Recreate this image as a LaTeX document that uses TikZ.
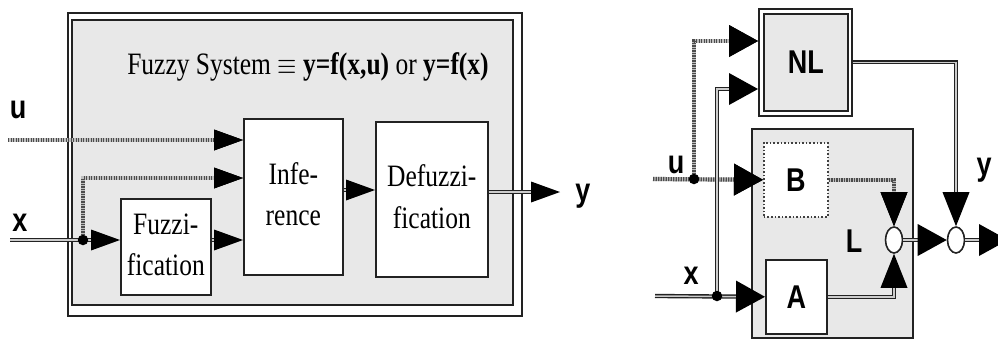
\documentclass[tikz,border=0pt]{standalone}
\usepackage{graphicx}
\usepackage{fontspec}
\setmainfont{Liberation Serif}
\setsansfont{Liberation Sans}
\usetikzlibrary{arrows.meta,shapes.geometric,calc}
\newcommand\vs[1]{\scalebox{1}[1.22]{#1}}
\definecolor{bgray}{HTML}{E8E8E8}
\definecolor{lin}{HTML}{222222}
\begin{document}
\begin{tikzpicture}[x=1pt,y=-1pt,
  box/.style={draw=lin, line width=1.6pt, fill=white, inner sep=0pt, anchor=north west},
  dbl/.style={draw=lin, line width=1.4pt, double=white!80!black, double distance=1.5pt},
  dts/.style={draw=black!70, line width=4.2pt, dash pattern=on 1.4pt off 1.1pt,
    preaction={draw=black!25, line width=4.2pt, solid}},
  tipS/.style={-{Triangle[length=29pt,width=21pt,line width=0pt,fill=black]}},
  tipH/.style={-{Triangle[length=29pt,width=32pt,line width=0pt,fill=black]}},
  tipV/.style={-{Triangle[length=34pt,width=27pt,line width=0pt,fill=black]}},
  serif/.style={font=\fontsize{25.5}{34}\selectfont},
  sfb/.style={font=\fontsize{27}{30}\selectfont\sffamily\bfseries},
  lab/.style={sfb, inner sep=0pt},
  jdot/.style={circle, fill=black, inner sep=0pt, minimum size=10.5pt},
  sum/.style={ellipse, draw=lin, line width=1.6pt, fill=white, minimum width=17pt, minimum height=26pt, inner sep=0pt},
]
\useasboundingbox (0,0) rectangle (998,338);

% ---------------- left: fuzzy system ----------------
\node[box, minimum width=454pt, minimum height=303pt] (fsysO) at (67,12) {};
\node[box, fill=bgray, minimum width=441pt, minimum height=285pt] (fsys) at (71,19) {};
\node[serif] (title) at (308,67) {\vs{Fuzzy System $\equiv$ \textbf{y=f(x,u)} or \textbf{y=f(x)}}};

\node[box, serif, minimum width=99pt, minimum height=156pt] (inf) at (243,118)
  {\vs{\begin{tabular}{@{}c@{}}Infe-\\rence\end{tabular}}};
\node[box, serif, minimum width=112pt, minimum height=155pt] (def) at (375,121)
  {\vs{\begin{tabular}{@{}c@{}}Defuzzi-\\fication\end{tabular}}};
\node[box, serif, minimum width=90pt, minimum height=96pt] (fuz) at (120,198)
  {\vs{\begin{tabular}{@{}c@{}}Fuzzi-\\fication\end{tabular}}};

\node[lab] (uL) at (18,110) {\vs{u}};
\node[lab] (xL) at (20,223) {\vs{x}};
\node[lab] (yL) at (583,196) {\vs{y}};

\coordinate (uS) at (8,140);
\coordinate (xS) at (10,240);
\coordinate (jx) at (83,240);
\coordinate (bend1) at (83,178);
\coordinate (m1) at (0,190);
\coordinate (yO) at (560,192);

\draw[dts, tipS] (uS) -- (uS -| inf.west);
\draw[dts, tipS] (jx) -- (bend1) -- (bend1 -| inf.west);
\draw[dbl] (xS) -- (jx);
\draw[dbl, tipS] (jx) -- (jx -| fuz.west);
\draw[dbl, tipS] (fuz.east |- jx) -- (inf.west |- jx);
\draw[dbl, tipS] (inf.east |- m1) -- (def.west |- m1);
\draw[dbl, tipS] (def.east |- yO) -- (yO);
\node[jdot] (dotL) at (jx) {};

% ---------------- right: NL + L ----------------
\node[box, minimum width=93pt, minimum height=107pt] (nl) at (758,8) {};
\node[box, fill=bgray, sfb, minimum width=84pt, minimum height=97pt] (nlin) at (763,13) {\vs{NL}};
\node[box, fill=bgray, minimum width=161pt, minimum height=209pt] (lbox) at (751,128) {};
\node[box, sfb, draw=black!75, line width=1.6pt, dotted, minimum width=64pt, minimum height=74pt] (bb) at (763,142) {\vs{B}};
\node[box, sfb, minimum width=61pt, minimum height=74pt] (aa) at (765,259) {\vs{A}};
\node[sum] (e1) at (894,240) {};
\node[sum] (e2) at (956,240) {};

\node[lab] (uR) at (676,165) {\vs{u}};
\node[lab] (xR) at (691,276) {\vs{x}};
\node[lab] (yR) at (984,170) {\vs{y}};
\node[lab] (LL) at (854,241) {\vs{L}};

\coordinate (uRS) at (653,179);
\coordinate (ju) at (694,179);
\coordinate (b2) at (694,41);
\coordinate (xRS) at (655,296);
\coordinate (jxr) at (717,296);
\coordinate (b3) at (717,89);
\coordinate (outR) at (1008,240);

\draw[dts, tipH] (uRS) -- (bb.west);
\draw[dts, tipH] (ju) -- (b2) -- (b2 -| nl.west);
\draw[dbl, tipH] (xRS) -- (aa.west);
\draw[dbl, tipH] (jxr) -- (b3) -- (b3 -| nl.west);
\draw[dts, tipV] (bb.east) -| (e1.north);
\draw[dbl, tipV] (aa.east) -| (e1.south);
\draw[dbl, tipV] (nl.east) -| (e2.north);
\draw[dbl, tipH] (e1.east) -- (e2.west);
\draw[dbl, tipH] (e2.east) -- (outR);
\node[jdot] (dotU) at (ju) {};
\node[jdot] (dotX) at (jxr) {};
\end{tikzpicture}
\end{document}
